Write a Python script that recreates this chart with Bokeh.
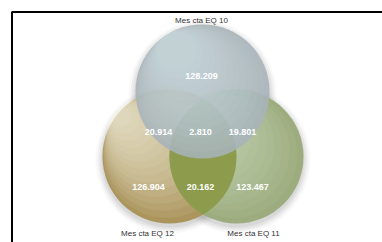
import numpy as np
from bokeh.plotting import figure
from bokeh.models import Range1d
from bokeh.core.properties import value
from bokeh.embed import file_html
from bokeh.resources import INLINE

# ---- data ----
set_names = ["Mes cta EQ 10", "Mes cta EQ 12", "Mes cta EQ 11"]
region_names = ["10 only", "10&12", "10&12&11", "10&11", "12 only", "12&11", "11 only"]
region_values = ["128.209", "20.914", "2.810", "19.801", "126.904", "20.162", "123.467"]

# ---- layout (pixel space) ----
W, H = 382, 242
R = 67
centers = [(202, 91), (169, 156), (236, 156)]   # 10, 12, 11
set_colors = ["#a7b3b9", "#ab955c", "#9dac7e"]
sheen_colors = ["#f2f5f6", "#fffbee", "#f3f7ea"]
sheen_alpha = [0.045, 0.075, 0.05]
name_pos = [(201, 20), (147, 233), (253, 233)]
region_pos = [(201, 75), (158, 131), (200, 131), (242, 131), (148, 186), (200, 186), (252, 186)]

p = figure(width=W, height=H, output_backend="svg", toolbar_location=None,
           x_range=Range1d(0, W), y_range=Range1d(H, 0),
           min_border=0, background_fill_color="white", border_fill_color="white")
p.axis.visible = False
p.grid.visible = False
p.outline_line_color = None

# frame border (left and top visible)
p.line(x=[11.5, 11.5, W + 20], y=[H + 20, 11.5, 11.5], line_color="black", line_width=2)

# drop shadows
for k, a in [(7, 0.035), (5, 0.05), (3, 0.07), (1, 0.09)]:
    p.circle(x=[c[0] for c in centers], y=[c[1] + 3 for c in centers], radius=R + k,
             fill_color="#555555", fill_alpha=a, line_color=None)


def sheen(cx, cy, col, alpha, n=14, dx=0.75, dy=0.75, smin=0.15):
    for s in np.linspace(0.95, smin, n):
        p.circle(x=[cx - R * (1 - s) * dx], y=[cy - R * (1 - s) * dy], radius=R * s,
                 fill_color=col, fill_alpha=alpha, line_color=None)


# left and right circles
for i in (1, 2):
    p.circle(x=[centers[i][0]], y=[centers[i][1]], radius=R,
             fill_color=set_colors[i], line_color=None)
    sheen(centers[i][0], centers[i][1], sheen_colors[i], sheen_alpha[i],
          dx=0.85, dy=0.7)

# lens of 12 & 11
(x1, y1), (x2, y2) = centers[1], centers[2]
d = np.hypot(x2 - x1, y2 - y1)
half = np.arccos((d / 2) / R)
base = np.arctan2(y2 - y1, x2 - x1)
t = np.linspace(-half, half, 100)
lx = np.concatenate([x1 + R * np.cos(base + t), x2 + R * np.cos(base + np.pi + t)])
ly = np.concatenate([y1 + R * np.sin(base + t), y2 + R * np.sin(base + np.pi + t)])
p.patch(x=lx, y=ly, fill_color="#8c9c4c", line_color=None)

# top circle, semi transparent
p.circle(x=[centers[0][0]], y=[centers[0][1]], radius=R,
         fill_color=set_colors[0], fill_alpha=0.88, line_color=None)
sheen(centers[0][0], centers[0][1], sheen_colors[0], sheen_alpha[0], n=12,
      dx=0.55, dy=0.85, smin=0.3)

# texts
p.text(x=[q[0] for q in name_pos], y=[q[1] for q in name_pos], text=set_names,
       text_font=value("Liberation Sans"), text_font_size="8px", text_color="#333333",
       text_align="center", text_baseline="middle")
p.text(x=[q[0] for q in region_pos], y=[q[1] for q in region_pos], text=region_values,
       text_font=value("Liberation Sans"), text_font_size="9px", text_color="white",
       text_font_style="bold", text_align="center", text_baseline="middle")

open("out.html", "w").write(file_html(p, INLINE))
